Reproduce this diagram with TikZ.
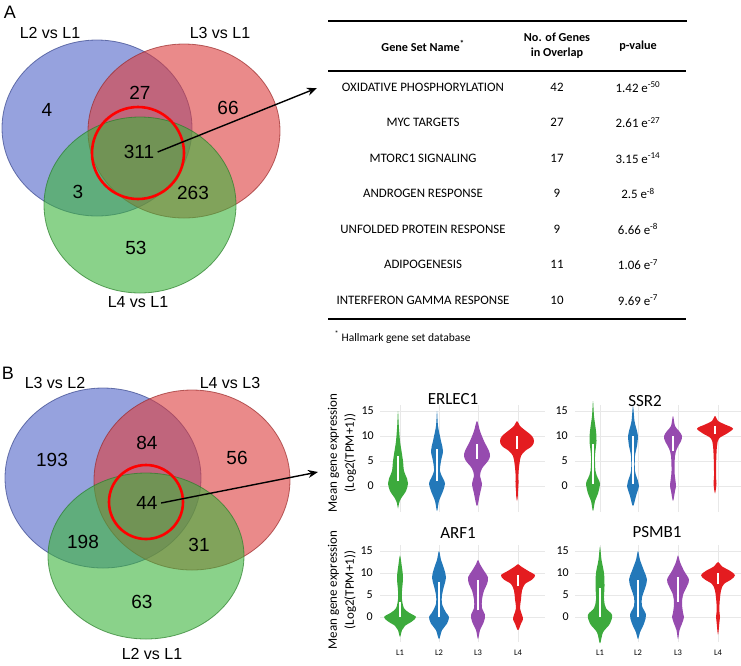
\documentclass[tikz,border=0pt]{standalone}
\usepackage{fontspec}
\setmainfont{Liberation Sans}
\newfontfamily\carlito{Carlito}
\usetikzlibrary{arrows.meta}

\definecolor{vennblue}{RGB}{80,100,200}
\definecolor{vennred}{RGB}{220,60,60}
\definecolor{venngreen}{RGB}{60,180,60}
\definecolor{vgreen}{RGB}{60,170,60}
\definecolor{vblue}{RGB}{35,120,185}
\definecolor{vpurple}{RGB}{150,75,175}
\definecolor{vred}{RGB}{228,28,32}

% violin: x, y of zero, px per unit, colour, top, bottom, value/halfwidth list, q1, q3
\newcommand{\violin}[9]{%
  \gdef\vright{}\gdef\vleft{}%
  \foreach \vv/\ww in {#7}{\xdef\vright{\vright(\ww,\vv)}\xdef\vleft{(-\ww,\vv)\vleft}}%
  \begin{scope}[shift={(#1,#2)},yscale=-#3]
    \edef\vpath{\noexpand\fill[#4] plot[smooth cycle,tension=0.55] coordinates {(0,#5)\vright(0,#6)\vleft};}%
    \vpath
    \draw[white,line width=1.6pt] (0,#8) -- (0,#9);
  \end{scope}}

\begin{document}
\begin{tikzpicture}[x=1pt,y=-1pt]
    % `venn' is used for the three sets, `ring' for the red highlight.
    % `cell' and `head' are used for the table, `tick' and `title' for the plots.
    \tikzstyle{venn} = [fill opacity=0.6,draw opacity=0.7,line width=0.8pt]
    \tikzstyle{ring} = [draw=red,line width=2.6pt]
    \tikzstyle{count} = [font=\fontsize{19}{22}\selectfont]
    \tikzstyle{setlabel} = [font=\fontsize{16}{19}\selectfont]
    \tikzstyle{panel} = [font=\fontsize{18}{21}\selectfont]
    \tikzstyle{pointer} = [-{Stealth[length=10pt,width=8pt]},line width=1.4pt]
    \tikzstyle{cell} = [font=\carlito\fontsize{12.9}{15}\selectfont]
    \tikzstyle{head} = [font=\carlito\bfseries\fontsize{12.2}{15}\selectfont,align=center]
    \tikzstyle{tick} = [font=\carlito\fontsize{12}{14}\selectfont,anchor=east,inner sep=1pt]
    \tikzstyle{title} = [font=\carlito\fontsize{17}{20}\selectfont]
    \tikzstyle{cat} = [font=\carlito\fontsize{8.5}{10}\selectfont]
    \tikzstyle{axis} = [font=\carlito\fontsize{13}{17}\selectfont,rotate=90,align=center]
    \tikzstyle{grid} = [gray!18,line width=0.5pt]
    %
    \useasboundingbox (0,0) rectangle (741,665);

    % Panel A: Venn diagram.
    \node[panel] (panelA) at (10,12) {A};
    \draw[venn,fill=vennblue,draw=vennblue!70!black] (97,128) ellipse [x radius=95,y radius=88];
    \draw[venn,fill=vennred,draw=vennred!70!black] (184,131) ellipse [x radius=96,y radius=87];
    \draw[venn,fill=venngreen,draw=venngreen!70!black] (140,205) ellipse [x radius=96,y radius=88];
    \draw[ring] (138,153) circle [radius=46];
    \node[setlabel] (setA1) at (50,33) {L2 vs L1};
    \node[setlabel] (setA2) at (220,33) {L3 vs L1};
    \node[setlabel] (setA3) at (138,302) {L4 vs L1};
    \node[count] (a4) at (47,110) {4};
    \node[count] (a27) at (140,93) {27};
    \node[count] (a66) at (228,108) {66};
    \node[count] (a311) at (139,152) {311};
    \node[count] (a3) at (78,192) {3};
    \node[count] (a263) at (193,193) {263};
    \node[count] (a53) at (136,248) {53};
    \coordinate (tipA) at (317,88);
    \draw[pointer] (a311.east) -- (tipA);

    % Table of gene sets.
    \draw[line width=1.2pt] (328,21) -- (687,21);
    \draw[line width=1.2pt] (328,71) -- (686,71);
    \draw[line width=1.2pt] (328,319) -- (686,319);
    \node[head] (hname) at (423,46) {Gene Set Name\textsuperscript{*}};
    \node[head] (hnum) at (557,46) {No. of Genes\\in Overlap};
    \node[head] (hp) at (638,46) {p-value};
    \foreach \name/\num/\pv/\ex [count=\i] in
      {OXIDATIVE PHOSPHORYLATION/42/1.42/-50, MYC TARGETS/27/2.61/-27,
       MTORC1 SIGNALING/17/3.15/-14, ANDROGEN RESPONSE/9/2.5/-8,
       UNFOLDED PROTEIN RESPONSE/9/6.66/-8, ADIPOGENESIS/11/1.06/-7,
       INTERFERON GAMMA RESPONSE/10/9.69/-7} {
      \node[cell] (gs\i) at (423,{51.5+35.5*\i}) {\name};
      \node[cell] (num\i) at (557,{51.5+35.5*\i}) {\num};
      \node[cell] (pv\i) at (638,{51.5+35.5*\i}) {\pv\ e\textsuperscript{\ex}};
    }
    \node[cell,anchor=west,font=\carlito\fontsize{11.5}{13}\selectfont] (note) at (331,337)
      {\textsuperscript{*} Hallmark gene set database};

    % Panel B: Venn diagram.
    \node[panel] (panelB) at (8,373) {B};
    \draw[venn,fill=vennblue,draw=vennblue!70!black] (103,478) ellipse [x radius=98,y radius=90];
    \draw[venn,fill=vennred,draw=vennred!70!black] (192,480) ellipse [x radius=98,y radius=90];
    \draw[venn,fill=venngreen,draw=venngreen!70!black] (146,556) ellipse [x radius=98,y radius=83];
    \draw[ring] (146,502) circle [radius=37];
    \node[setlabel] (setB1) at (55,383) {L3 vs L2};
    \node[setlabel] (setB2) at (230,383) {L4 vs L3};
    \node[setlabel] (setB3) at (152,654) {L2 vs L1};
    \node[count] (b193) at (52,460) {193};
    \node[count] (b84) at (147,443) {84};
    \node[count] (b56) at (237,458) {56};
    \node[count] (b44) at (147,503) {44};
    \node[count] (b198) at (83,542) {198};
    \node[count] (b31) at (199,545) {31};
    \node[count] (b63) at (142,602) {63};
    \coordinate (tipB) at (318,472);
    \draw[pointer] (b44.east) -- (tipB);

    % Violin plots: grid and axes.
    \foreach \t in {0,5,10,15} {
      \draw[grid] (380,{486-5*\t}) -- (545,{486-5*\t});
      \draw[grid] (575,{486-5*\t}) -- (741,{486-5*\t});
      \draw[grid] (380,{617-4.4*\t}) -- (545,{617-4.4*\t});
      \draw[grid] (575,{617-4.4*\t}) -- (741,{617-4.4*\t});
      \node[tick] (tka\t) at (375,{486-5*\t}) {\t};
      \node[tick] (tkb\t) at (569,{486-5*\t}) {\t};
      \node[tick] (tkc\t) at (374,{617-4.4*\t}) {\t};
      \node[tick] (tkd\t) at (570,{617-4.4*\t}) {\t};
    }
    \foreach \xa/\xb [count=\k] in {400/600, 439/638, 478/678, 518/718} {
      \draw[grid] (\xa,405) -- (\xa,512);
      \draw[grid] (\xb,405) -- (\xb,512);
      \draw[grid] (\xa,545) -- (\xa,642);
      \draw[grid] (\xb,545) -- (\xb,642);
      \node[cat] (cl\k) at (\xa,653) {L\k};
      \node[cat] (cr\k) at (\xb,653) {L\k};
    }
    \node[title] (erlec) at (453,399) {ERLEC1};
    \node[title] (ssr) at (645,401) {SSR2};
    \node[title] (arf) at (458,533) {ARF1};
    \node[title] (psmb) at (657,532) {PSMB1};
    \node[axis] (ytop) at (342,453) {Mean gene expression\\(Log2(TPM+1))};
    \node[axis] (ybot) at (342,590) {Mean gene expression\\(Log2(TPM+1))};

    % ERLEC1
    \violin{398}{486}{5}{vgreen}{15}{-4.5}{12/0.8, 9/2, 7/3.5, 5/5, 3/6, 1.5/9, 0.5/10, -1/8, -2.5/3, -3.5/1}{1}{6}
    \violin{437}{486}{5}{vblue}{15}{-5}{12/1, 9/4, 7/6, 5/4, 3/3, 1.5/6, 0.5/8, -1/6, -3/2}{1}{7.5}
    \violin{477}{486}{5}{vpurple}{13}{-4}{11/3, 9/7, 7/12, 6/13, 5/11, 3.5/5, 2/3, 0.5/5, -1.5/3}{5.5}{8.5}
    \violin{517}{486}{5}{vred}{13}{-3}{12/3, 11/9, 10/15, 9/17, 8/15, 7/8, 6/4, 4.5/2.5, 2.5/1.5, 0.5/1.5, -1/1, -2/0.8}{7.5}{10}
    % SSR2
    \violin{593}{486}{5}{vgreen}{17}{-5}{14/1, 11/3, 9/3.5, 6/2, 3/2.5, 1.5/5, 0.5/7, -1.5/5, -3/2}{0.5}{8.5}
    \violin{633}{486}{5}{vblue}{16}{-4}{13/1.5, 11/4, 10/5, 8/4, 6/2, 3/2, 1/5, 0/6, -2/3}{0.5}{10}
    \violin{673}{486}{5}{vpurple}{14}{-3}{12/2, 11/6, 10/9, 9/8, 7.5/4, 6/2, 3/1.5, 1/2.5, 0/3, -1/2}{7}{10}
    \violin{715}{486}{5}{vred}{14}{-1.5}{13/3, 12.3/10, 11.5/18, 10.5/12, 9.5/4, 8/2, 5/1.2, 2/1, 0.5/1.5, -0.5/1}{10.5}{12}
    % ARF1
    \violin{400}{617}{4.4}{vgreen}{14}{-4.5}{12/1.5, 9/3, 6/2, 4/2, 2/4, 1/9, 0/16, -1/12, -2/5, -3/2}{0}{3.5}
    \violin{439}{617}{4.4}{vblue}{15}{-5}{13/2, 11/5, 9/7, 7/5, 5/3, 3/3, 1/7, 0/10, -1.5/8, -3/3}{0}{8}
    \violin{478}{617}{4.4}{vpurple}{13}{-5}{12/2, 10.5/6, 9/10, 7.5/9, 6/6, 4/4, 2/4, 0.5/7, -1/6, -3/2}{1.5}{8.5}
    \violin{518}{617}{4.4}{vred}{12}{-3}{11.5/3, 10.5/10, 9.5/17, 8.5/14, 7.5/7, 6/4, 4/3, 2/2, 0.5/4, -0.5/5, -1.5/3}{7}{9.5}
    % PSMB1
    \violin{600}{617}{4.4}{vgreen}{16}{-6}{13/1.5, 10/4, 7/4.5, 4/4, 2/6, 0.5/12, -1.5/10, -3.5/3}{0}{6.5}
    \violin{638}{617}{4.4}{vblue}{15}{-5}{13/2, 10.5/6, 8.5/9, 6.5/7, 4.5/4, 2.5/4, 0.5/8, -1.5/6, -3.5/2}{0}{8.5}
    \violin{678}{617}{4.4}{vpurple}{14}{-5}{12.5/2, 10.5/6, 8.5/11, 7/9, 5/5, 3/4, 1/5, 0/6, -1.5/4, -3/1.5}{3.5}{9}
    \violin{718}{617}{4.4}{vred}{12.5}{-4}{11.5/4, 10.5/12, 9.5/17, 8.5/13, 7.5/6, 6/3, 3/1.5, 1/1.5, 0/2, -1/1.5}{7.5}{10}
\end{tikzpicture}
\end{document}
